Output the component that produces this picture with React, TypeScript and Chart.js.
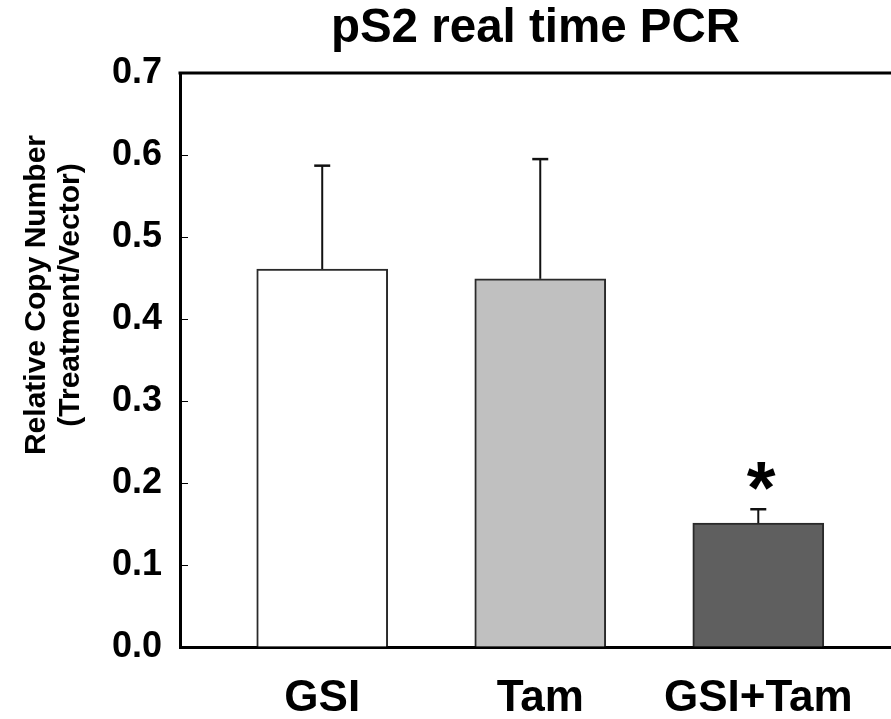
import { useEffect, useRef } from "react";
import { Chart, registerables } from "chart.js";

Chart.register(...registerables);

const chartTitle = "pS2 real time PCR";
const yAxisTitle = ["Relative Copy Number", "(Treatment/Vector)"];
const categories = ["GSI", "Tam", "GSI+Tam"];
const means = [0.461, 0.449, 0.151];
const errors = [0.126, 0.146, 0.017];
const significance = ["", "", "*"];
const barColors = ["#ffffff", "#c0c0c0", "#5f5f5f"];
const yTickValues = [0, 0.1, 0.2, 0.3, 0.4, 0.5, 0.6, 0.7];

const FONT = "'Liberation Sans', Arial, Helvetica, sans-serif";

const framePlugin = {
  id: "frameTop",
  afterDraw(chart: any) {
    const { ctx, chartArea } = chart;
    ctx.save();
    ctx.strokeStyle = "#000";
    ctx.lineWidth = 3;
    ctx.beginPath();
    ctx.moveTo(chartArea.left - 1.5, chartArea.top);
    ctx.lineTo(chart.width, chartArea.top);
    ctx.stroke();
    const ys = chart.scales.y;
    ctx.lineWidth = 1;
    ys.ticks.forEach((t: any) => {
      const p = Math.round(ys.getPixelForValue(t.value)) + 0.5;
      ctx.beginPath();
      ctx.moveTo(chartArea.left, p);
      ctx.lineTo(chartArea.left + 8, p);
      ctx.stroke();
    });
    ctx.restore();
  },
};

const errorBarPlugin = {
  id: "errorBars",
  afterDatasetsDraw(chart: any) {
    const { ctx } = chart;
    const ys = chart.scales.y;
    const meta = chart.getDatasetMeta(0);
    ctx.save();
    meta.data.forEach((bar: any, i: number) => {
      const x = bar.x;
      const top = ys.getPixelForValue(means[i] + errors[i]);
      ctx.strokeStyle = "#111";
      ctx.lineWidth = 2;
      ctx.beginPath();
      ctx.moveTo(x, bar.y);
      ctx.lineTo(x, top);
      ctx.stroke();
      ctx.lineWidth = 2.5;
      ctx.beginPath();
      ctx.moveTo(x - 8, top);
      ctx.lineTo(x + 8, top);
      ctx.stroke();
      if (significance[i]) {
        ctx.font = `bold 74px ${FONT}`;
        ctx.fillStyle = "#000";
        ctx.textAlign = "left";
        ctx.textBaseline = "alphabetic";
        const m = ctx.measureText(significance[i]);
        const l = -m.actualBoundingBoxLeft;
        const r = m.actualBoundingBoxRight;
        const t = -m.actualBoundingBoxAscent;
        const b = m.actualBoundingBoxDescent;
        const cx = x + 3;
        const cy = top - 33;
        ctx.fillText(significance[i], cx - (l + r) / 2, cy - (t + b) / 2);
      }
    });
    ctx.restore();
  },
};

const yTitlePlugin = {
  id: "yTitle",
  afterDraw(chart: any) {
    const { ctx, chartArea } = chart;
    ctx.save();
    ctx.font = `bold 30px ${FONT}`;
    ctx.fillStyle = "#000";
    ctx.textAlign = "center";
    ctx.textBaseline = "middle";
    const cy = (chartArea.top + chartArea.bottom) / 2 - 65;
    yAxisTitle.forEach((line, i) => {
      ctx.save();
      ctx.translate(37 + i * 34, cy);
      ctx.rotate(-Math.PI / 2);
      ctx.fillText(line, 0, 0);
      ctx.restore();
    });
    ctx.restore();
  },
};

export default function App() {
  const ref = useRef<HTMLCanvasElement | null>(null);
  useEffect(() => {
    if (!ref.current) return;
    Chart.defaults.font.family = FONT;
    const chart = new Chart(ref.current, {
      type: "bar",
      data: {
        datasets: [
          {
            data: means.map((v, i) => ({ x: i + 1, y: v })),
            backgroundColor: barColors,
            borderColor: "#2a2a2a",
            borderWidth: 2,
            barThickness: 131,
          },
        ],
      },
      options: {
        responsive: false,
        animation: false,
        events: [],
        layout: { padding: 0 },
        plugins: {
          legend: { display: false },
          tooltip: { enabled: false },
          title: {
            display: true,
            text: chartTitle,
            fullSize: false,
            color: "#000",
            font: { size: 47.5, weight: "bold", lineHeight: 1.2 },
            padding: { top: 0, bottom: 16 },
          },
        },
        scales: {
          x: {
            type: "linear",
            offset: false,
            bounds: "data",
            min: 0.3477,
            max: 3.6087,
            grid: { display: true, drawOnChartArea: false, drawTicks: false },
            border: { display: true, color: "#000", width: 3 },
            afterBuildTicks: (s: any) => {
              s.ticks = categories.map((_, i) => ({ value: i + 1 }));
            },
            afterFit: (s: any) => {
              s.height = 72;
            },
            ticks: {
              autoSkip: false,
              maxRotation: 0,
              color: "#000",
              padding: 25,
              font: { size: 44, weight: "bold", lineHeight: 1.2 },
              callback: (v: any) => categories[Math.round(Number(v)) - 1] ?? "",
            },
          },
          y: {
            min: 0,
            max: 0.7,
            grid: { display: true, drawOnChartArea: false, drawTicks: false },
            border: { display: true, color: "#000", width: 3 },
            afterBuildTicks: (s: any) => {
              s.ticks = yTickValues.map((v) => ({ value: v }));
            },
            afterFit: (s: any) => {
              s.width = 180;
            },
            ticks: {
              color: "#000",
              padding: 18,
              font: { size: 36, weight: "bold", lineHeight: 1.2 },
              callback: (v: any) => Number(v).toFixed(1),
            },
          },
        },
      },
      plugins: [framePlugin, errorBarPlugin, yTitlePlugin],
    } as any);
    return () => chart.destroy();
  }, []);
  return (
    <div style={{ position: "fixed", left: 0, top: 0, width: 891, height: 719, background: "#fff" }}>
      <canvas ref={ref} width={891} height={719} style={{ display: "block" }} />
    </div>
  );
}
